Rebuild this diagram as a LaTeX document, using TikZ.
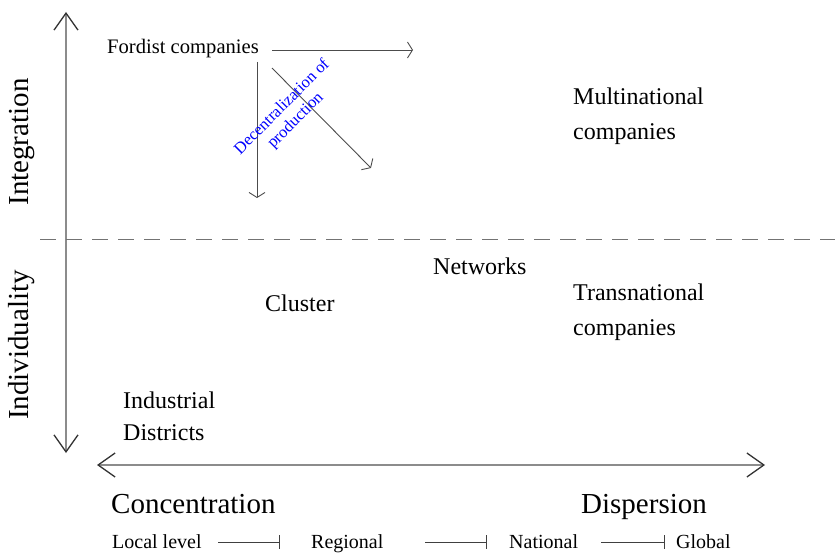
\documentclass[tikz,border=0pt]{standalone}
\usepackage{fontspec}
\setmainfont{Liberation Serif}
\usetikzlibrary{arrows.meta}
\begin{document}
\begin{tikzpicture}[x=1pt,y=-1pt,
  lbl/.style={inner sep=0pt, anchor=base west, align=left},
  axisline/.style={draw=black!45, line width=1.4pt,
    {Straight Barb[length=17pt,width=24pt,line width=1.3pt,color=black!80]}-{Straight Barb[length=17pt,width=24pt,line width=1.3pt,color=black!80]}},
  shiftarrow/.style={draw=black!70, line width=0.9pt,
    -{Straight Barb[length=5pt,width=16pt,line width=0.9pt]}},
  scalearrow/.style={draw=black!75, line width=0.8pt, -{Bar[width=14pt,line width=0.8pt]}},
  bigtxt/.style={font=\fontsize{24}{35}\selectfont},
  hugetxt/.style={font=\fontsize{29}{34}\selectfont},
  midtxt/.style={font=\fontsize{20}{24}\selectfont},
]
\useasboundingbox (0,0) rectangle (835,553);

% axes and the dividing line
\coordinate (ytop) at (66,12);
\coordinate (ybot) at (66,453);
\coordinate (xleft) at (97,465);
\coordinate (xright) at (765,465);
\coordinate (dashL) at (40,240);
\coordinate (dashR) at (835,240);
\draw[axisline] (ybot) -- (ytop);
\draw[axisline] (xleft) -- (xright);
\draw[draw=black!55, line width=1pt, dash pattern=on 16pt off 10pt] (dashL) -- (dashR);

% axis titles
\node[hugetxt, rotate=90, inner sep=0pt] (integ) at (22,142) {Integration};
\node[hugetxt, rotate=90, inner sep=0pt] (indiv) at (22,345) {Individuality};

% Fordist companies and the three shifts
\node[lbl, font=\fontsize{20.6}{24}\selectfont] (fordist) at (107,54) {Fordist companies};
\coordinate (fR0) at (272,50);
\coordinate (fR1) at (413,50);
\coordinate (fD0) at (257,62);
\coordinate (fD1) at (257,198);
\coordinate (fX0) at (272,68);
\coordinate (fX1) at (371,168);
\draw[shiftarrow] (fR0) -- (fR1);
\draw[shiftarrow] (fD0) -- (fD1);
\draw[shiftarrow] (fX0) -- (fX1);
\node[text=blue, rotate=45, align=center, inner sep=0pt,
  font=\fontsize{16.5}{19}\selectfont] (decent) at (289,114)
  {Decentralization of\\production};

% company types (the base of a two-line label is its second line)
\node[lbl, bigtxt] (multi) at (573,140) {Multinational\\companies};
\node[lbl, bigtxt] (netw) at (433,275) {Networks};
\node[lbl, bigtxt] (clus) at (265,312) {Cluster};
\node[lbl, bigtxt] (trans) at (573,335) {Transnational\\companies};
\node[lbl, font=\fontsize{24}{32}\selectfont] (indus) at (123,440) {Industrial\\Districts};

% spatial scale
\node[lbl, hugetxt] (conc) at (111,513) {Concentration};
\node[lbl, hugetxt] (disp) at (581,513) {Dispersion};
\node[lbl, midtxt] (local) at (112,548) {Local level};
\node[lbl, midtxt] (regio) at (311,548) {Regional};
\node[lbl, midtxt] (natio) at (509,548) {National};
\node[lbl, midtxt] (globa) at (676,548) {Global};
\coordinate (s1) at (218,542);
\coordinate (e1) at (280,542);
\coordinate (s2) at (425,542);
\coordinate (e2) at (487,542);
\coordinate (s3) at (601,542);
\coordinate (e3) at (665,542);
\draw[scalearrow] (s1) -- (e1);
\draw[scalearrow] (s2) -- (e2);
\draw[scalearrow] (s3) -- (e3);
\end{tikzpicture}
\end{document}
